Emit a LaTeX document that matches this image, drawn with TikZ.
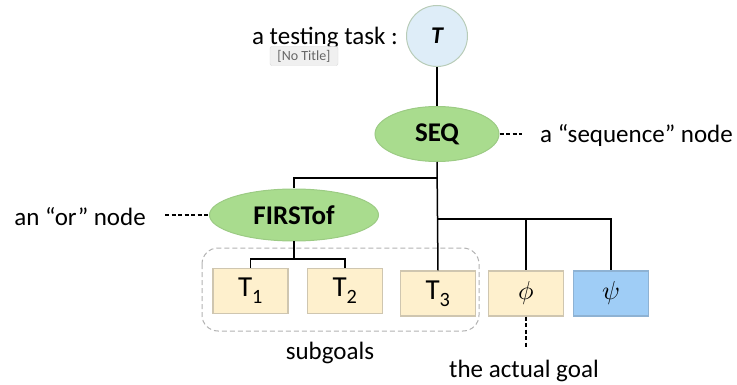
\documentclass[tikz,border=0pt]{standalone}
\usepackage{fontspec}
\usepackage{unicode-math}
\setmainfont{Carlito}
\setmathfont{Latin Modern Math}
\usetikzlibrary{calc,shapes.geometric}
\definecolor{tfill}{HTML}{DEEDF8}
\definecolor{tline}{HTML}{B8CCB8}
\definecolor{gfill}{HTML}{A9DC8E}
\definecolor{gline}{HTML}{9CCB84}
\definecolor{yfill}{HTML}{FEF0CD}
\definecolor{yline}{HTML}{CFC6B0}
\definecolor{bfill}{HTML}{9FCDF6}
\definecolor{bline}{HTML}{8EB2D3}
\tikzset{
  x=1pt, y=-1pt,
  lbl/.style={font=\fontsize{25}{28}\selectfont, inner sep=0pt},
  taskc/.style={circle, draw=tline, fill=tfill, line width=1pt, minimum size=61pt, inner sep=0pt, font=\fontsize{24}{28}\selectfont\bfseries\itshape},
  opnode/.style={ellipse, draw=gline, fill=gfill, line width=1pt, inner sep=0pt, font=\fontsize{27}{30}\selectfont\bfseries},
  leaf/.style={rectangle, draw=yline, fill=yfill, line width=1.2pt, minimum width=75pt, minimum height=45pt, inner sep=0pt, font=\fontsize{29}{32}\selectfont},
  leafb/.style={leaf, draw=bline, fill=bfill},
  conn/.style={line width=1.5pt, black},
  dconn/.style={line width=1.3pt, black, dash pattern=on 4pt off 2.5pt},
}
\begin{document}
\begin{tikzpicture}
\useasboundingbox (0,0) rectangle (737,385);
% top task
\node[taskc] (T) at (437,36) {T};
\node[lbl, anchor=east] (tasklbl) at (398,38) {a testing task :};
% tooltip artifact
\node[rectangle, rounded corners=2pt, fill=black!6, draw=black!15, minimum width=68pt, minimum height=19pt, inner sep=0pt, font=\fontsize{14}{15}\selectfont, text=black!60] (tip) at (304,56) {[No Title]};
% SEQ
\node[opnode, minimum width=124pt, minimum height=55pt] (seq) at (437,134) {SEQ};
\node[lbl, anchor=west] (seqlbl) at (540,136) {a “sequence” node};
\coordinate (seqd) at (522,134);
% FIRSTof
\node[opnode, minimum width=169pt, minimum height=52pt] (first) at (294,215) {FIRSTof};
\node[lbl, anchor=east] (orlbl) at (146,217) {an “or” node};
\coordinate (ord) at (165,215);
% leaves
\node[leaf] (t1) at (250.5,291) {T\textsubscript{1}};
\node[leaf] (t2) at (345,291) {T\textsubscript{2}};
\node[leaf] (t3) at (438,293.5) {T\textsubscript{3}};
\node[leaf, font=\fontsize{26}{28}\selectfont] (phi) at (526,293.5) {$\phi$};
\node[leafb, font=\fontsize{26}{28}\selectfont] (psi) at (611,293.5) {$\psi$};
% subgoals group
\draw[black!30, line width=1pt, dash pattern=on 5pt off 3pt, rounded corners=16pt] (202,248) rectangle (479,331);
\node[lbl] (sub) at (330,353) {subgoals};
\node[lbl] (goal) at (524,371) {the actual goal};
\coordinate (gd) at (526,347);
% connectors
\draw[conn] (T.south) -- (seq.north);
\draw[conn] (seq.south) -- (t3.north);
\draw[conn] (seq.south |- 0,178) -| (first.north);
\draw[conn] (seq.south |- 0,219) -| (phi.north);
\draw[conn] (seq.south |- 0,219) -| (psi.north);
\draw[conn] (first.south) -- (first.south |- 0,259);
\draw[conn] (t1.north) |- (first.south |- 0,259) -| (t2.north);
\draw[dconn] (seq.east) -- (seqd);
\draw[dconn] (ord) -- (first.west);
\draw[dconn] (phi.south) -- (gd);
\end{tikzpicture}
\end{document}
